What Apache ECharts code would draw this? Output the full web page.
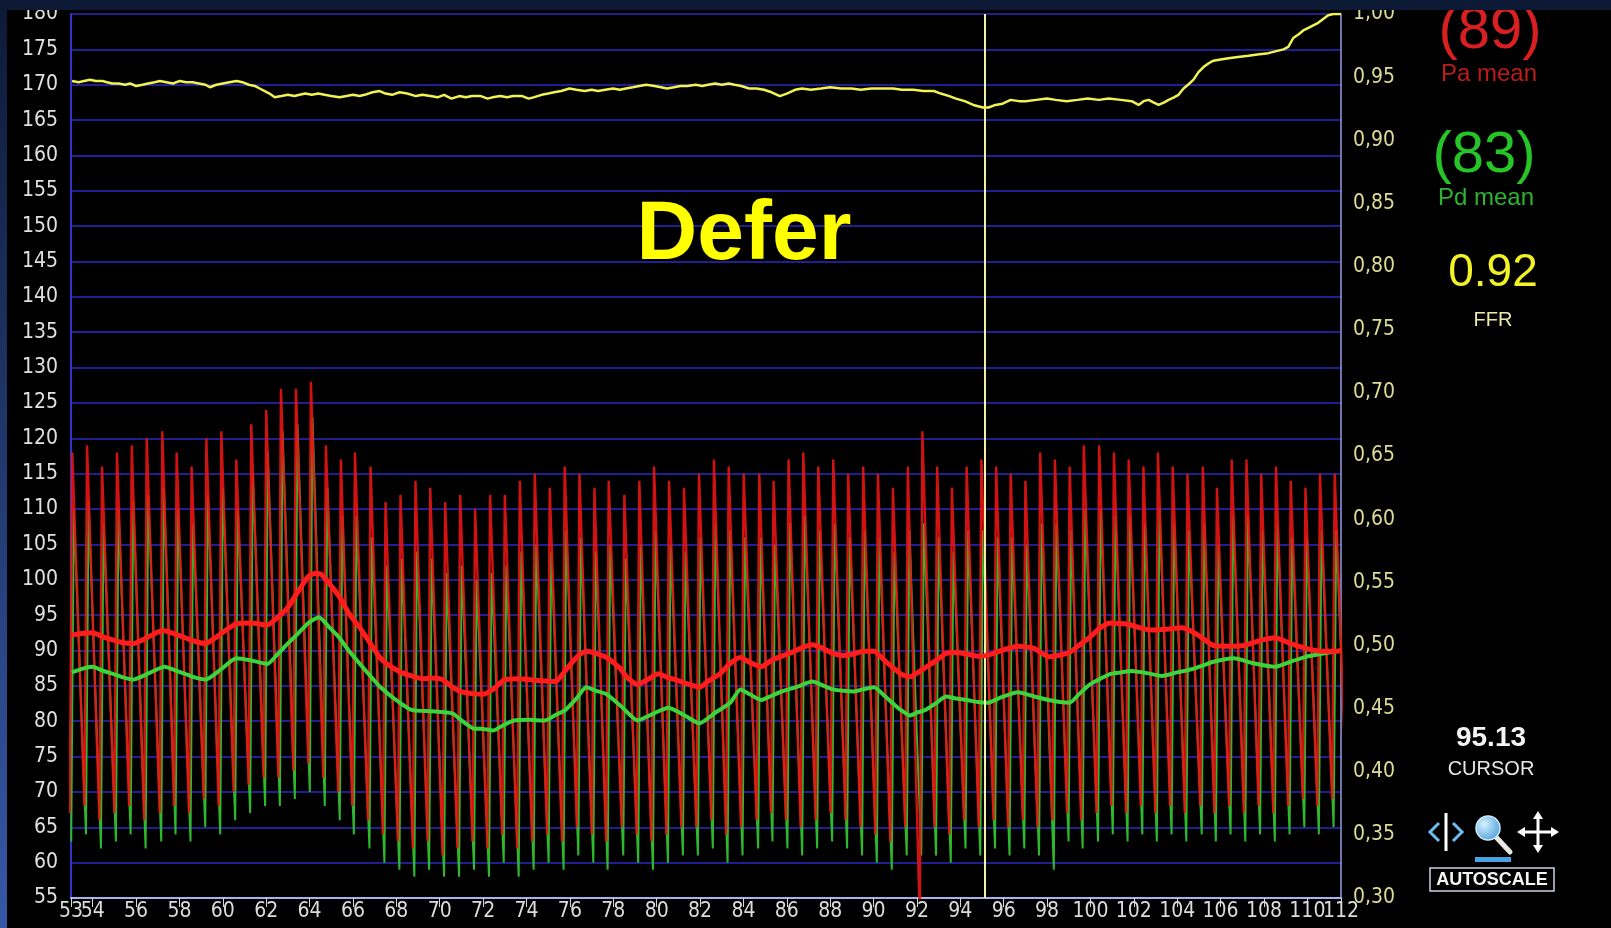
<!DOCTYPE html>
<html><head><meta charset="utf-8">
<script src="https://cdn.jsdelivr.net/npm/echarts@6/dist/echarts.min.js"></script>
<style>html,body{margin:0;padding:0;background:#000;overflow:hidden}#c{width:1611px;height:928px}</style>
</head><body><div id="c"></div>
<script>
// ---- data ----
const beatTimes = [52.94,
  53.62,54.31,55.00,55.68,56.37,57.09,57.75,58.44,59.12,59.81,60.50,
  61.19,61.88,62.56,63.25,63.94,64.63,65.32,65.97,66.69,
  67.38,68.07,68.76,69.44,70.13,70.82,71.51,72.20,72.88,73.57,
  74.26,74.95,75.64,76.32,77.01,77.67,78.39,79.08,79.76,80.45,
  81.14,81.83,82.52,83.20,83.89,84.61,85.27,85.96,86.64,87.33,
  88.02,88.71,89.40,90.08,90.77,91.46,92.13,92.81,93.49,94.17,
  94.85,95.53,96.20,96.88,97.56,98.24,98.92,99.57,100.28,100.96,
  101.64,102.32,102.99,103.67,104.35,105.06,105.71,106.39,107.07,107.75,
  108.43,109.11,109.79,110.46,111.14, 111.82];
const paSys = [118,
  119,116,118,119,120,121,118,116,120,121,117,
  122,124,127,127,128,119,117,118,116,
  111,112,114,113,111,112,110,112,112,114,
  115,113,116,115,113,114,112,114,116,114,
  113,115,117,116,115,115,114,117,118,116,
  117,115,116,115,113,116,121,116,113,116,
  117,116,115,114,118,117,116,119,119,118,
  117,116,118,116,115,116,113,117,117,115,
  116,114,113,115,115, 115];
const paDia = [67,
  68,66,67,68,66,67,68,67,69,68,70,
  71,72,72,73,74,72,70,68,66,
  64,63,62,63,61,62,63,62,64,62,
  63,64,63,65,64,63,65,64,63,64,
  65,65,66,64,65,66,67,66,65,66,
  67,66,65,64,63,65,52,65,64,66,
  65,66,65,66,65,66,67,66,67,68,
  67,68,67,68,67,68,67,68,67,68,
  67,68,69,68,69, 68];
const pdSys = [110,
  111,108,110,111,112,113,110,108,112,113,110,
  115,118,121,122,123,113,109,109,106,
  102,103,104,103,101,102,100,101,102,104,
  105,104,107,106,104,105,103,105,107,105,
  104,106,108,107,106,106,105,108,109,107,
  108,106,107,106,104,107,108,106,104,107,
  107,106,106,105,108,108,107,110,110,109,
  109,108,110,108,107,108,105,109,109,107,
  108,106,106,107,107, 107];
const pdDia = [63,
  64,62,63,64,62,63,64,63,65,64,66,
  67,68,68,69,70,68,66,64,62,
  60,59,58,59,58,58,59,58,60,58,
  59,60,59,61,60,59,61,60,59,60,
  61,61,62,60,61,62,63,62,61,62,
  63,62,61,60,59,61,61,61,60,62,
  61,62,61,62,61,59,63,62,63,64,
  63,64,63,64,63,64,63,64,63,64,
  63,64,65,64,65, 64];
const paMean = [[53.04,92.2],[53.5,92.4],[53.99,92.5],[54.5,91.9],[54.93,91.5],[55.4,91.1],[55.88,91.0],[56.5,91.8],[57.0,92.6],[57.31,92.8],[57.8,92.3],[58.26,91.8],[58.8,91.2],[59.21,91.0],[59.7,91.9],[60.2,93.0],[60.63,93.8],[61.3,93.9],[62.05,93.6],[62.5,94.6],[63.0,96.1],[63.5,98.5],[63.95,100.5],[64.25,100.9],[64.52,100.8],[64.9,99.5],[65.37,97.6],[65.8,95.3],[66.32,93.2],[66.8,91.0],[67.27,88.9],[67.8,87.6],[68.3,86.8],[68.69,86.4],[69.2,86.0],[69.6,86.1],[70.11,85.9],[70.6,84.8],[71.06,84.1],[71.5,83.9],[72.01,83.8],[72.5,84.6],[72.96,85.8],[73.6,86.0],[74.38,85.8],[75.33,85.6],[75.8,87.2],[76.3,89.0],[76.75,89.9],[77.2,89.6],[77.7,89.0],[78.3,87.5],[78.7,86.0],[79.12,85.2],[79.6,85.9],[80.07,86.7],[80.5,86.2],[81.02,85.7],[81.5,85.2],[81.97,84.8],[82.4,85.7],[82.91,86.7],[83.4,88.2],[83.86,89.0],[84.3,88.3],[84.81,87.7],[85.3,88.6],[85.76,89.2],[86.3,89.8],[86.7,90.4],[87.18,90.8],[87.6,90.4],[88.13,89.6],[88.6,89.3],[89.08,89.5],[89.5,89.9],[90.02,89.9],[90.5,88.6],[90.97,87.4],[91.3,86.6],[91.68,86.3],[92.0,86.8],[92.4,87.6],[92.9,88.6],[93.34,89.6],[93.8,89.7],[94.29,89.5],[94.8,89.2],[95.24,89.3],[95.9,90.0],[96.66,90.6],[97.4,90.3],[98.08,89.1],[98.5,89.3],[99.03,89.7],[99.5,90.8],[99.98,91.9],[100.45,93.2],[100.93,93.9],[101.4,93.8],[101.87,93.6],[102.3,93.2],[102.82,92.9],[103.5,93.0],[104.24,93.2],[105.0,92.1],[105.67,90.7],[106.4,90.6],[107.09,90.7],[107.8,91.4],[108.51,91.8],[109.2,91.0],[109.94,90.3],[110.6,89.9],[111.36,89.9],[111.55,90.0]];
const pdMean = [[53.04,86.9],[53.5,87.4],[53.99,87.7],[54.5,87.1],[54.93,86.7],[55.4,86.2],[55.88,85.9],[56.6,86.8],[57.31,87.7],[57.8,87.2],[58.26,86.7],[58.7,86.2],[59.21,85.9],[59.9,87.3],[60.63,88.9],[61.3,88.6],[62.05,88.1],[62.5,89.4],[63.0,91.0],[63.5,92.5],[63.95,93.9],[64.43,94.7],[64.9,93.3],[65.37,91.8],[65.8,90.0],[66.32,88.1],[66.8,86.4],[67.27,84.8],[67.9,83.2],[68.69,81.6],[69.6,81.4],[70.58,81.1],[71.0,80.1],[71.53,79.0],[72.0,78.9],[72.48,78.7],[72.9,79.4],[73.43,80.1],[74.1,80.2],[74.85,80.1],[75.3,80.8],[75.8,81.6],[76.3,83.2],[76.75,84.8],[77.2,84.3],[77.7,83.8],[78.4,82.0],[79.12,80.1],[79.8,81.0],[80.54,81.9],[81.3,80.8],[81.97,79.7],[82.7,81.2],[83.39,82.6],[83.86,84.5],[84.3,83.8],[84.81,83.0],[85.3,83.6],[85.76,84.2],[86.5,84.9],[87.18,85.6],[87.7,85.0],[88.13,84.5],[88.6,84.3],[89.08,84.2],[89.5,84.5],[90.02,84.8],[90.5,83.6],[90.97,82.3],[91.3,81.5],[91.68,80.8],[92.0,81.2],[92.4,81.6],[92.9,82.6],[93.34,83.5],[93.8,83.2],[94.29,83.0],[94.8,82.7],[95.24,82.6],[95.9,83.4],[96.66,84.1],[97.4,83.5],[98.08,83.0],[98.6,82.7],[99.03,82.6],[99.5,83.9],[99.98,85.2],[100.45,86.0],[100.93,86.7],[101.4,86.9],[101.87,87.1],[102.6,86.8],[103.3,86.4],[104.0,86.9],[104.72,87.4],[105.2,87.9],[105.67,88.4],[106.1,88.7],[106.62,88.9],[107.5,88.2],[108.51,87.7],[109.2,88.4],[109.94,89.1],[110.6,89.5],[111.36,89.9],[111.55,90.0]];
const ffrTrace = [[53.05,0.947],[53.35,0.946],[53.6,0.947],[53.87,0.948],[54.15,0.947],[54.45,0.947],[54.66,0.946],[54.9,0.945],[55.2,0.945],[55.5,0.944],[55.72,0.945],[56.0,0.943],[56.3,0.944],[56.55,0.945],[56.85,0.946],[57.1,0.947],[57.4,0.946],[57.7,0.945],[58.02,0.947],[58.3,0.946],[58.6,0.946],[58.9,0.945],[59.2,0.944],[59.4,0.942],[59.7,0.944],[60.0,0.945],[60.3,0.946],[60.64,0.947],[60.9,0.946],[61.2,0.944],[61.47,0.943],[61.7,0.941],[61.93,0.939],[62.15,0.937],[62.39,0.934],[62.7,0.935],[63.0,0.936],[63.3,0.935],[63.54,0.936],[63.8,0.937],[64.1,0.936],[64.4,0.937],[64.69,0.936],[65.0,0.935],[65.38,0.934],[65.7,0.935],[66.0,0.936],[66.3,0.935],[66.54,0.936],[66.9,0.938],[67.23,0.939],[67.5,0.937],[67.8,0.936],[68.15,0.938],[68.5,0.937],[68.9,0.935],[69.2,0.936],[69.57,0.935],[69.9,0.934],[70.2,0.936],[70.54,0.933],[70.9,0.935],[71.2,0.934],[71.49,0.935],[71.9,0.935],[72.2,0.933],[72.43,0.934],[72.8,0.935],[73.1,0.934],[73.38,0.935],[73.8,0.935],[74.1,0.933],[74.32,0.934],[74.7,0.936],[75.0,0.937],[75.27,0.938],[75.6,0.939],[75.98,0.941],[76.3,0.940],[76.69,0.939],[77.0,0.940],[77.3,0.939],[77.63,0.940],[78.0,0.941],[78.3,0.940],[78.58,0.941],[78.9,0.942],[79.2,0.943],[79.52,0.944],[79.9,0.943],[80.2,0.942],[80.48,0.941],[80.8,0.942],[81.1,0.943],[81.41,0.943],[81.8,0.944],[82.1,0.943],[82.37,0.944],[82.7,0.945],[83.0,0.944],[83.32,0.945],[83.6,0.944],[83.9,0.943],[84.26,0.941],[84.6,0.941],[84.95,0.940],[85.3,0.938],[85.68,0.935],[86.0,0.937],[86.38,0.940],[86.7,0.941],[87.1,0.940],[87.58,0.941],[88.0,0.942],[88.5,0.941],[88.99,0.941],[89.4,0.940],[89.9,0.941],[90.41,0.941],[90.9,0.941],[91.3,0.940],[91.83,0.940],[92.3,0.939],[92.78,0.939],[93.1,0.937],[93.49,0.935],[93.8,0.933],[94.2,0.931],[94.6,0.928],[95.04,0.926],[95.3,0.926],[95.62,0.928],[95.95,0.929],[96.32,0.932],[96.7,0.931],[97.02,0.931],[97.5,0.932],[97.99,0.933],[98.4,0.932],[98.9,0.931],[99.4,0.932],[99.87,0.933],[100.38,0.932],[100.84,0.933],[101.4,0.932],[101.9,0.931],[102.22,0.928],[102.45,0.931],[102.68,0.932],[102.9,0.930],[103.14,0.928],[103.4,0.930],[103.6,0.932],[103.85,0.934],[104.06,0.936],[104.29,0.941],[104.5,0.944],[104.75,0.948],[104.98,0.954],[105.21,0.958],[105.45,0.961],[105.67,0.963],[106.0,0.964],[106.36,0.965],[106.8,0.966],[107.28,0.967],[107.7,0.968],[108.2,0.969],[108.66,0.971],[108.9,0.972],[109.12,0.974],[109.35,0.981],[109.6,0.984],[109.81,0.987],[110.05,0.989],[110.27,0.991],[110.5,0.993],[110.73,0.996],[110.96,0.999],[111.2,1.0],[111.55,1.0]];
const cursorTime = 95.13;
const X_MIN = 53, X_MAX = 111.55;
const xTickValues = [54,56,58,60,62,64,66,68,70,72,74,76,78,80,82,84,86,88,90,92,94,96,98,100,102,104,106,108,110];
const xEdgeValues = [X_MIN, X_MAX];
const xEdgeLabels = ['53', '112'];
const readouts = {pa:'(89)', pd:'(83)', ffr:'0.92', cursor:'95.13'};

// ---- build ----
const RISE = 0.12, PD_LAG = 0.07;
function wave(sys, dia, lag){
  const d = [];
  for (let i = 0; i < beatTimes.length; i++){
    d.push([beatTimes[i] + lag, dia[i]]);
    d.push([beatTimes[i] + lag + RISE, sys[i]]);
  }
  return d;
}
const NARROW = '"Liberation Sans Narrow","DejaVu Sans Condensed","Liberation Sans",sans-serif';
const SANS = '"Liberation Sans",Arial,sans-serif';
const xLabelStyle = {margin:3, color:'#dcdcdc', fontSize:21, fontFamily:NARROW, hideOverlap:false};

const chart = echarts.init(document.getElementById('c'), null, {renderer:'canvas'});
const txt = (x,y,text,font,fill,z) => ({type:'text', x, y, z: z||50, silent:true,
  style:{text, font, fill, align:'center', verticalAlign:'middle', textAlign:'center', textVerticalAlign:'middle'}});
const W = '#ffffff', BLUE = '#6cbcec';
chart.setOption({
  animation:false,
  backgroundColor:'#000',
  grid:{left:71, right:270, top:14, bottom:30, containLabel:false},
  xAxis:[
    {type:'value', min:X_MIN, max:X_MAX, position:'bottom',
      axisLine:{show:true, onZero:false, lineStyle:{color:'#aeaef2', width:2}},
      axisTick:{show:true, customValues:xTickValues, length:9, lineStyle:{color:'#d8d8d8', width:1}},
      axisLabel:Object.assign({customValues:xTickValues, formatter:v => String(Math.round(v))}, xLabelStyle),
      splitLine:{show:false}},
    {type:'value', min:X_MIN, max:X_MAX, position:'bottom',
      axisLine:{show:false, onZero:false},
      axisTick:{show:true, customValues:xEdgeValues, length:9, lineStyle:{color:'#d8d8d8', width:1}},
      axisLabel:Object.assign({customValues:xEdgeValues, showMinLabel:true, showMaxLabel:true,
        formatter:v => xEdgeLabels[xEdgeValues.indexOf(v)] || ''}, xLabelStyle),
      splitLine:{show:false}}
  ],
  yAxis:[
    {type:'value', min:55, max:180, interval:5, position:'left',
      axisLine:{show:true, lineStyle:{color:'#3434cc', width:2}},
      axisTick:{show:false},
      axisLabel:{color:'#e0e0e0', fontSize:21, fontFamily:NARROW, margin:13, showMinLabel:true, showMaxLabel:true},
      splitLine:{show:true, lineStyle:{color:'#2a2ac2', width:1.6}}},
    {type:'value', min:0.30, max:1.00, interval:0.05, position:'right',
      axisLine:{show:true, lineStyle:{color:'#9a9ae6', width:1.5}},
      axisTick:{show:false},
      axisLabel:{color:'#dcdc96', fontSize:21, fontFamily:NARROW, margin:12, showMinLabel:true, showMaxLabel:true,
        formatter:v => v.toFixed(2).replace('.', ',')},
      splitLine:{show:false}}
  ],
  series:[
    {type:'line', name:'Pd', data:wave(pdSys, pdDia, PD_LAG), symbol:'none', clip:true, z:2,
      lineStyle:{color:'#2eb82e', width:2}},
    {type:'line', name:'Pa', data:wave(paSys, paDia, 0), symbol:'none', clip:true, z:3,
      lineStyle:{color:'#e81414', width:2.4, opacity:0.9}},
    {type:'line', name:'Pd mean', data:pdMean, symbol:'none', clip:true, z:4, smooth:0.2,
      lineStyle:{color:'#3cd43c', width:4}},
    {type:'line', name:'Pa mean', data:paMean, symbol:'none', clip:true, z:5, smooth:0.2,
      lineStyle:{color:'#ff1c1c', width:5}},
    {type:'line', name:'FFR', yAxisIndex:1, data:ffrTrace, symbol:'none', clip:true, z:6,
      lineStyle:{color:'#f2f250', width:2.5},
      markLine:{silent:true, symbol:'none', label:{show:false},
        lineStyle:{color:'#f4f0a8', width:2, type:'solid'}, data:[{xAxis:cursorTime}]}}
  ],
  graphic:[
    {type:'rect', z:100, silent:true, shape:{x:0,y:0,width:1611,height:10}, style:{fill:'#0c1a36'}},
    {type:'rect', z:99, silent:true, shape:{x:0,y:0,width:7,height:928},
      style:{fill:new echarts.graphic.LinearGradient(0,0,0,1,[{offset:0,color:'#0d1a36'},{offset:1,color:'#3558a8'}])}},
    txt(744, 236, 'Defer', 'bold 84px ' + SANS, '#ffff00'),
    txt(1490, 32, readouts.pa, '58px ' + SANS, '#d82020', 60),
    txt(1489, 74, 'Pa mean', '24px ' + SANS, '#bc1c1c'),
    txt(1484, 156, readouts.pd, '58px ' + SANS, '#26c426'),
    txt(1486, 198, 'Pd mean', '24px ' + SANS, '#2eb42e'),
    txt(1493, 273, readouts.ffr, '46px ' + SANS, '#f2f226'),
    txt(1493, 320, 'FFR', '20px ' + SANS, '#e8e8a8'),
    txt(1491, 738, readouts.cursor, 'bold 28px ' + SANS, '#f4f4f4'),
    txt(1491, 769, 'CURSOR', '20px ' + SANS, '#e6e6e6'),
    // icons
    {type:'polyline', z:50, silent:true, shape:{points:[[1439,823],[1430,832],[1439,841]]}, style:{stroke:BLUE, lineWidth:3, fill:null}},
    {type:'line', z:50, silent:true, shape:{x1:1446,y1:813,x2:1446,y2:851}, style:{stroke:W, lineWidth:3}},
    {type:'polyline', z:50, silent:true, shape:{points:[[1453,823],[1462,832],[1453,841]]}, style:{stroke:BLUE, lineWidth:3, fill:null}},
    {type:'line', z:50, silent:true, shape:{x1:1496,y1:837,x2:1510,y2:852}, style:{stroke:'#e8e8e0', lineWidth:5, lineCap:'round'}},
    {type:'circle', z:51, silent:true, shape:{cx:1488,cy:828,r:12},
      style:{fill:new echarts.graphic.RadialGradient(0.35,0.35,0.8,[{offset:0,color:'#d6f2ff'},{offset:1,color:'#3d96d8'}]), stroke:'#cfe8f8', lineWidth:1.5}},
    {type:'rect', z:50, silent:true, shape:{x:1475,y:857,width:36,height:5}, style:{fill:'#4aa2e2'}},
    {type:'line', z:50, silent:true, shape:{x1:1520,y1:832,x2:1556,y2:832}, style:{stroke:W, lineWidth:3}},
    {type:'line', z:50, silent:true, shape:{x1:1538,y1:814,x2:1538,y2:850}, style:{stroke:W, lineWidth:3}},
    {type:'polygon', z:50, silent:true, shape:{points:[[1517,832],[1525,827],[1525,837]]}, style:{fill:W}},
    {type:'polygon', z:50, silent:true, shape:{points:[[1559,832],[1551,827],[1551,837]]}, style:{fill:W}},
    {type:'polygon', z:50, silent:true, shape:{points:[[1538,811],[1533,819],[1543,819]]}, style:{fill:W}},
    {type:'polygon', z:50, silent:true, shape:{points:[[1538,853],[1533,845],[1543,845]]}, style:{fill:W}},
    {type:'rect', z:50, silent:true, shape:{x:1430,y:868,width:124,height:23}, style:{fill:null, stroke:'#c8d4e4', lineWidth:1.5}},
    txt(1492, 880, 'AUTOSCALE', 'bold 18px ' + SANS, '#f4f4f4')
  ]
});
</script>
</body></html>
